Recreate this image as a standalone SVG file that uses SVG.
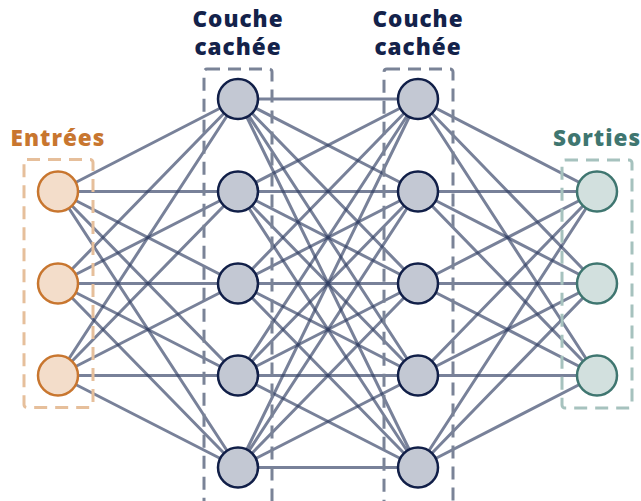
<svg xmlns="http://www.w3.org/2000/svg" width="641" height="501" viewBox="0 0 641 501">
<style>
.e{stroke:#2f3d63;stroke-opacity:0.65;stroke-width:3;fill:none}
.lbl{font-family:"Open Sans","DejaVu Sans",sans-serif;font-weight:800;font-size:22.5px;letter-spacing:1px;text-anchor:middle}
.in{fill:#f3ddca;stroke:#c8762f;stroke-width:2.5}
.hid{fill:#c3c8d3;stroke:#111f48;stroke-width:2.5}
.out{fill:#d2e0de;stroke:#3f7670;stroke-width:2.5}
.box{fill:none;stroke-width:3;stroke-dasharray:13,8}
</style>
<rect width="641" height="501" fill="#ffffff"/>
<g id="connectors">
<g class="e">
<path d="M58 191.5L238 99M58 191.5L238 191.5M58 191.5L238 283.5M58 191.5L238 375.5M58 191.5L238 467.5"/>
<path d="M58 283.5L238 99M58 283.5L238 191.5M58 283.5L238 283.5M58 283.5L238 375.5M58 283.5L238 467.5"/>
<path d="M58 375.5L238 99M58 375.5L238 191.5M58 375.5L238 283.5M58 375.5L238 375.5M58 375.5L238 467.5"/>
<path d="M238 99L418 99M238 99L418 191.5M238 99L418 283.5M238 99L418 375.5M238 99L418 467.5"/>
<path d="M238 191.5L418 99M238 191.5L418 191.5M238 191.5L418 283.5M238 191.5L418 375.5M238 191.5L418 467.5"/>
<path d="M238 283.5L418 99M238 283.5L418 191.5M238 283.5L418 283.5M238 283.5L418 375.5M238 283.5L418 467.5"/>
<path d="M238 375.5L418 99M238 375.5L418 191.5M238 375.5L418 283.5M238 375.5L418 375.5M238 375.5L418 467.5"/>
<path d="M238 467.5L418 99M238 467.5L418 191.5M238 467.5L418 283.5M238 467.5L418 375.5M238 467.5L418 467.5"/>
<path d="M418 99L597 191.5M418 191.5L597 191.5M418 283.5L597 191.5M418 375.5L597 191.5M418 467.5L597 191.5"/>
<path d="M418 99L597 283.5M418 191.5L597 283.5M418 283.5L597 283.5M418 375.5L597 283.5M418 467.5L597 283.5"/>
<path d="M418 99L597 375.5M418 191.5L597 375.5M418 283.5L597 375.5M418 375.5L597 375.5M418 467.5L597 375.5"/>
</g>
</g>
<g id="boxes">
<rect class="box" x="24" y="159.5" width="69" height="248" rx="3" stroke="#e6bf9b"/>
<rect class="box" x="204" y="69" width="68" height="440" rx="3" stroke="#7a8397"/>
<rect class="box" x="384" y="69" width="69" height="440" rx="3" stroke="#7a8397"/>
<rect class="box" x="562" y="160" width="70" height="248" rx="3" stroke="#a6c2be"/>
</g>
<g id="input-layer">
<text class="lbl" x="58" y="146" fill="#c8762f">Entrées</text>
<g id="in1"><circle class="in" cx="58" cy="191.5" r="20"/></g>
<g id="in2"><circle class="in" cx="58" cy="283.5" r="20"/></g>
<g id="in3"><circle class="in" cx="58" cy="375.5" r="20"/></g>
</g>
<g id="hidden-layer-1">
<text class="lbl" x="238" y="27" fill="#13224a">Couche</text>
<text class="lbl" x="238" y="55" fill="#13224a">cachée</text>
<g id="h1n1"><circle class="hid" cx="238" cy="99" r="20"/></g>
<g id="h1n2"><circle class="hid" cx="238" cy="191.5" r="20"/></g>
<g id="h1n3"><circle class="hid" cx="238" cy="283.5" r="20"/></g>
<g id="h1n4"><circle class="hid" cx="238" cy="375.5" r="20"/></g>
<g id="h1n5"><circle class="hid" cx="238" cy="467.5" r="20"/></g>
</g>
<g id="hidden-layer-2">
<text class="lbl" x="418" y="27" fill="#13224a">Couche</text>
<text class="lbl" x="418" y="55" fill="#13224a">cachée</text>
<g id="h2n1"><circle class="hid" cx="418" cy="99" r="20"/></g>
<g id="h2n2"><circle class="hid" cx="418" cy="191.5" r="20"/></g>
<g id="h2n3"><circle class="hid" cx="418" cy="283.5" r="20"/></g>
<g id="h2n4"><circle class="hid" cx="418" cy="375.5" r="20"/></g>
<g id="h2n5"><circle class="hid" cx="418" cy="467.5" r="20"/></g>
</g>
<g id="output-layer">
<text class="lbl" x="597" y="146" fill="#3f7670">Sorties</text>
<g id="out1"><circle class="out" cx="597" cy="191.5" r="20"/></g>
<g id="out2"><circle class="out" cx="597" cy="283.5" r="20"/></g>
<g id="out3"><circle class="out" cx="597" cy="375.5" r="20"/></g>
</g>
</svg>
